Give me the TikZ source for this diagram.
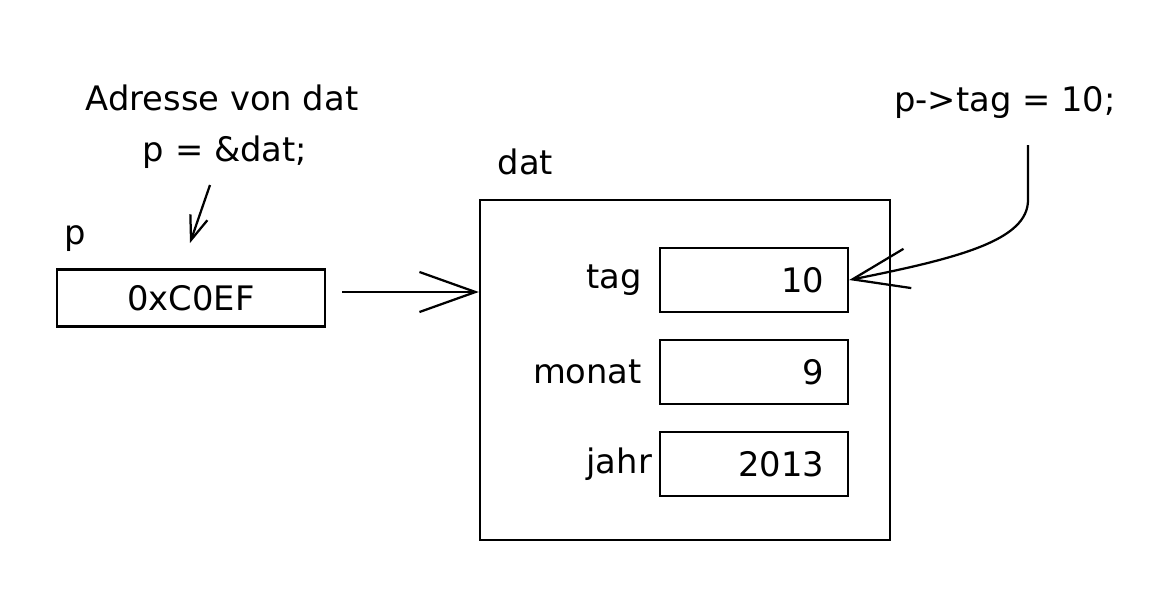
\documentclass[tikz,border=0pt]{standalone}
\usepackage{fontspec}
\setmainfont{DejaVu Sans}
\usetikzlibrary{positioning,calc,arrows.meta}

\begin{document}
\begin{tikzpicture}[x=0.025cm,y=-0.025cm,
  every node/.style={font=\fontsize{24}{28}\selectfont},
  sketch/.style={draw,line width=1.6pt},
  field/.style={sketch,minimum width=4.7cm,minimum height=1.6cm},
  barb/.style={line width=1.6pt,-{Straight Barb[length=14mm,width=10mm]}}
]
\useasboundingbox (0,0) rectangle (1154,588);

% pointer p
\node[sketch,minimum width=6.7cm,minimum height=1.43cm] (pbox) at (191,298) {0xC0EF};
\node[anchor=base west] (plabel) at ($ (pbox.north west) + (0.1cm, 0.6cm) $) {p};
\node (addr) at (222,98) {Adresse von dat};
\node (assign) at (225,152) {p = \&dat;};
\coordinate (addrtop) at (210,185);
\coordinate (addrtip) at (190,243);
\coordinate (ptail) at (342,292);

% struct dat
\node[sketch,minimum width=10.25cm,minimum height=8.5cm] (dat) at (685,370) {};
\node[anchor=base west] (datlabel) at ($ (dat.north west) + (0.35cm, 0.6cm) $) {dat};

\node[field] (tagbox) at (754,280) {};
\node[field] (monatbox) at (754,372) {};
\node[field] (jahrbox) at (754,464) {};

\node[left=0.3cm of tagbox] (tag) {tag};
\node[left=0.3cm of monatbox] (monat) {monat};
\node[left=0.05cm of jahrbox] (jahr) {jahr};

\node[anchor=east] (tagval) at ($ (tagbox.east) - (0.5cm, 0) $) {10};
\node[anchor=east] (monatval) at ($ (monatbox.east) - (0.5cm, 0) $) {9};
\node[anchor=east] (jahrval) at ($ (jahrbox.east) - (0.5cm, 0) $) {2013};

% access via p
\node (access) at (1005,102) {p->tag = 10;};
\coordinate (accesstop) at (1028,145);

\draw[line width=1.6pt,-{Straight Barb[length=6mm,width=4.5mm]}] (addrtop) -- (addrtip);
\draw[barb] (ptail) -- (dat.west |- ptail);
\draw[barb] (accesstop) -- ++(0,55)
  .. controls (1028,240) and (960,258) .. (tagbox.east);

\end{tikzpicture}
\end{document}
